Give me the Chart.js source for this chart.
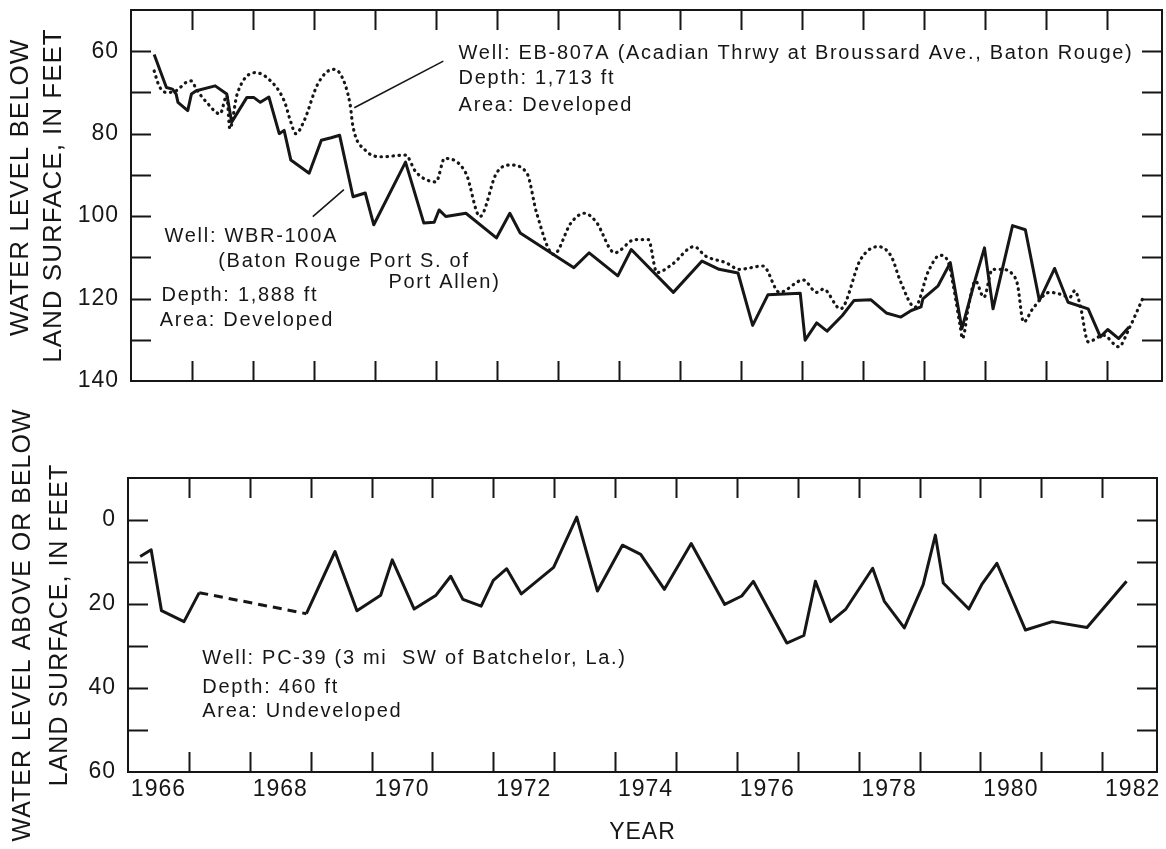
<!DOCTYPE html>
<html>
<head>
<meta charset="utf-8">
<title>Water levels, Baton Rouge area wells</title>
<script src="https://cdn.jsdelivr.net/npm/chart.js@4.4.1/dist/chart.umd.min.js"></script>
<style>
    html, body { margin: 0; padding: 0; background: #fff; }
    #wrap { position: relative; width: 1166px; height: 849px; overflow: hidden; }
    #wrap canvas { position: absolute; left: 0; }
    #topChart { top: 0; }
    #bottomChart { top: 390px; }
</style>
</head>
<body>
<div id="wrap">
    <canvas id="topChart" width="1166" height="420"></canvas>
    <canvas id="bottomChart" width="1166" height="459"></canvas>
</div>
<script>
// --- data (year, feet below land surface) ---
const yearLabels = ['1966', '1968', '1970', '1972', '1974', '1976', '1978', '1980', '1982'];

// Well WBR-100A (solid line)
const wbrYears = [1966.38, 1966.58, 1966.68, 1966.74, 1966.77, 1966.93, 1966.99, 1967.07, 1967.38, 1967.57,
    1967.65, 1967.90, 1968.01, 1968.12, 1968.26, 1968.43, 1968.51, 1968.62, 1968.92, 1969.12,
    1969.28, 1969.42, 1969.64, 1969.84, 1969.98, 1970.50, 1970.80, 1970.97, 1971.05, 1971.16,
    1971.49, 1971.99, 1972.21, 1972.38, 1973.26, 1973.51, 1973.98, 1974.20, 1974.89, 1975.36,
    1975.64, 1975.95, 1976.19, 1976.44, 1976.97, 1977.05, 1977.24, 1977.41, 1977.66, 1977.85,
    1978.13, 1978.38, 1978.62, 1978.79, 1978.95, 1978.98, 1979.23, 1979.43, 1979.62, 1979.84,
    1979.99, 1980.13, 1980.45, 1980.66, 1980.89, 1981.14, 1981.36, 1981.69, 1981.89, 1982.01,
    1982.19, 1982.36];
const wbrLevels = [60.8, 68.8, 69.2, 70.4, 72.4, 74.4, 70.4, 69.6, 68.4, 70.4,
    77.2, 71.2, 71.2, 72.4, 71.1, 80.0, 79.2, 86.4, 89.6, 81.6,
    81.0, 80.4, 95.3, 94.4, 102.1, 86.9, 101.7, 101.5, 98.5, 100.1,
    99.3, 105.3, 99.3, 104.1, 112.5, 108.9, 114.5, 108.1, 118.5, 110.9,
    112.9, 113.8, 126.5, 119.1, 118.7, 130.1, 125.9, 127.9, 124.1, 120.5,
    120.3, 123.5, 124.5, 122.9, 122.0, 120.1, 116.9, 111.3, 127.3, 115.3,
    107.7, 122.5, 102.3, 103.3, 120.5, 112.7, 120.9, 122.5, 129.3, 127.5,
    129.7, 126.9];

// Well EB-807A (dotted line)
const ebYears = [1966.38, 1966.46, 1966.58, 1966.74, 1966.90, 1966.99, 1967.07, 1967.24, 1967.46, 1967.57,
    1967.62, 1967.74, 1968.04, 1968.26, 1968.51, 1968.62, 1968.70, 1968.84, 1969.06, 1969.31,
    1969.45, 1969.59, 1969.64, 1969.84, 1970.11, 1970.50, 1970.67, 1971.00, 1971.14, 1971.49,
    1971.72, 1971.99, 1972.21, 1972.49, 1972.65, 1972.93, 1973.21, 1973.43, 1973.62, 1973.93,
    1974.26, 1974.48, 1974.62, 1974.87, 1975.23, 1975.42, 1975.75, 1975.97, 1976.36, 1976.63,
    1977.02, 1977.24, 1977.35, 1977.63, 1977.96, 1978.24, 1978.46, 1978.62, 1978.85, 1979.07,
    1979.26, 1979.40, 1979.48, 1979.59, 1979.63, 1979.73, 1979.84, 1979.98, 1980.12, 1980.26,
    1980.45, 1980.53, 1980.63, 1980.78, 1981.06, 1981.22, 1981.39, 1981.47, 1981.56, 1981.69,
    1981.94, 1982.19, 1982.36, 1982.58];
const ebLevels = [64.8, 68.4, 70.0, 69.6, 67.6, 67.2, 69.2, 72.4, 75.2, 70.8,
    78.8, 70.4, 65.2, 66.8, 72.0, 77.2, 80.0, 76.8, 68.0, 64.4,
    66.0, 72.8, 78.4, 84.0, 85.6, 85.2, 89.3, 91.7, 86.0, 89.6,
    100.1, 89.6, 87.6, 89.6, 99.3, 109.3, 101.7, 99.3, 101.3, 108.9,
    105.7, 105.7, 113.7, 111.7, 107.4, 109.7, 111.3, 112.9, 112.1, 118.5,
    115.5, 118.5, 117.7, 122.5, 110.5, 107.4, 109.7, 116.1, 122.1, 113.4,
    109.5, 111.3, 116.9, 126.5, 129.7, 121.7, 115.7, 119.7, 112.9, 112.9,
    114.1, 116.5, 125.7, 122.5, 118.5, 118.9, 119.7, 118.1, 121.7, 130.5,
    128.9, 131.7, 127.3, 120.1];

// Well PC-39 (solid, one dashed stretch with no record)
const pcYears = [1966.20, 1966.38, 1966.55, 1966.92, 1967.17, 1968.93, 1969.40, 1969.76, 1970.15, 1970.34,
    1970.70, 1971.06, 1971.30, 1971.50, 1971.80, 1972.00, 1972.22, 1972.46, 1972.99, 1973.37,
    1973.71, 1974.12, 1974.42, 1974.81, 1975.25, 1975.80, 1976.08, 1976.27, 1976.82, 1977.10,
    1977.29, 1977.54, 1977.79, 1978.23, 1978.42, 1978.75, 1979.06, 1979.26, 1979.39, 1979.81,
    1980.02, 1980.27, 1980.74, 1981.18, 1981.75, 1982.40];
const pcLevels = [8.7, 7.1, 21.6, 24.2, 17.3, 22.3, 7.5, 21.6, 17.9, 9.5,
    21.2, 17.9, 13.4, 18.9, 20.5, 14.4, 11.6, 17.6, 11.3, -0.7,
    16.9, 6.0, 8.2, 16.5, 5.6, 20.1, 18.1, 14.6, 29.3, 27.5,
    14.6, 24.2, 21.2, 11.5, 19.3, 25.7, 15.4, 3.6, 15.0, 21.2,
    15.4, 10.3, 26.2, 24.2, 25.6, 14.6];
const pcDashedFrom = 4;

// --- styling ---
const INK = '#161616';
const FONT = "'Liberation Sans', Arial, Helvetica, sans-serif";
const YEAR_MIN = 1966;
const YEAR_MAX = 1982.9;

const toPoints = (xs, ys) => xs.map((x, i) => ({ x, y: ys[i] }));

// Chart.js has no inward ticks, so mark them from the scales after drawing
const frameTicks = {
    id: 'frameTicks',
    afterDraw(chart) {
        const { ctx, chartArea: a, scales: { x, y } } = chart;
        const len = 20;
        ctx.save();
        ctx.strokeStyle = INK;
        ctx.lineWidth = 2;
        ctx.strokeRect(a.left, a.top, a.right - a.left, a.bottom - a.top);
        ctx.beginPath();
        for (let yr = Math.ceil(YEAR_MIN) + 1; yr < YEAR_MAX; yr++) {
            const px = Math.round(x.getPixelForValue(yr)) + 0.5;
            ctx.moveTo(px, a.top); ctx.lineTo(px, a.top + len);
            ctx.moveTo(px, a.bottom); ctx.lineTo(px, a.bottom - len);
        }
        y.ticks.forEach((t) => {
            if (t.value <= y.min || t.value >= y.max) return;
            const py = Math.round(y.getPixelForValue(t.value)) + 0.5;
            ctx.moveTo(a.left, py); ctx.lineTo(a.left + len, py);
            ctx.moveTo(a.right, py); ctx.lineTo(a.right - len, py);
        });
        ctx.stroke();
        ctx.restore();
    }
};

const tracking = {
    id: 'tracking',
    beforeUpdate(chart) { chart.ctx.letterSpacing = '1px'; },
    beforeDraw(chart) { chart.ctx.letterSpacing = '1px'; }
};

function notesPlugin(texts, leaders) {
    return {
        id: 'notes',
        afterDatasetsDraw(chart) {
            const { ctx, scales: { x, y } } = chart;
            ctx.save();
            ctx.fillStyle = INK;
            ctx.strokeStyle = INK;
            ctx.font = `20px ${FONT}`;
            ctx.letterSpacing = '1.7px';
            ctx.textBaseline = 'middle';
            ctx.textAlign = 'left';
            texts.forEach((t) => ctx.fillText(t.text, x.getPixelForValue(t.year), y.getPixelForValue(t.level)));
            ctx.lineWidth = 1.6;
            leaders.forEach((l) => {
                ctx.beginPath();
                ctx.moveTo(x.getPixelForValue(l.from[0]), y.getPixelForValue(l.from[1]));
                ctx.lineTo(x.getPixelForValue(l.to[0]), y.getPixelForValue(l.to[1]));
                ctx.stroke();
            });
            ctx.restore();
        }
    };
}

function levelAxis(min, max, width, pad, lines, size, lineHeight) {
    return {
        min, max, reverse: true,
        grid: { display: false, drawTicks: false },
        border: { display: false },
        ticks: {
            stepSize: 10, autoSkip: false, padding: pad, color: INK,
            font: { family: FONT, size: 23 },
            callback: (v) => (v % 20 === 0 && v !== min ? String(v) : '')
        },
        title: {
            display: true, text: lines, color: INK,
            font: { family: FONT, size, lineHeight },
            padding: { top: 5, bottom: 0 }
        },
        afterFit: (scale) => { scale.width = width; scale.paddingTop = 0; scale.paddingBottom = 0; }
    };
}

const baseOptions = {
    responsive: false,
    animation: false,
    events: [],
    plugins: { legend: { display: false }, tooltip: { enabled: false } }
};

// top panel: developed-area wells
new Chart(document.getElementById('topChart'), {
    type: 'line',
    data: {
        datasets: [
            {
                label: 'EB-807A', data: toPoints(ebYears, ebLevels),
                borderColor: INK, borderWidth: 3.2, borderDash: [0.5, 5.5], borderCapStyle: 'round',
                cubicInterpolationMode: 'monotone', pointRadius: 0
            },
            {
                label: 'WBR-100A', data: toPoints(wbrYears, wbrLevels),
                borderColor: INK, borderWidth: 3, borderJoinStyle: 'round', tension: 0, pointRadius: 0
            }
        ]
    },
    options: {
        ...baseOptions,
        layout: { padding: { top: 10, right: 4, bottom: 39, left: 0 } },
        scales: {
            x: { type: 'linear', display: false, min: YEAR_MIN, max: YEAR_MAX },
            y: levelAxis(50, 140, 131, 12, ['  WATER LEVEL BELOW', 'LAND SURFACE, IN FEET'], 26, 1.25)
        }
    },
    plugins: [tracking, frameTicks, notesPlugin([
        { text: 'Well: EB-807A (Acadian Thrwy at Broussard Ave., Baton Rouge)', year: 1971.37, level: 60.5 },
        { text: 'Depth: 1,713 ft', year: 1971.37, level: 66.7 },
        { text: 'Area: Developed', year: 1971.37, level: 73.2 },
        { text: 'Well: WBR-100A', year: 1966.55, level: 104.9 },
        { text: '(Baton Rouge Port S. of', year: 1967.43, level: 111.0 },
        { text: 'Port Allen)', year: 1970.22, level: 116.0 },
        { text: 'Depth: 1,888 ft', year: 1966.50, level: 119.3 },
        { text: 'Area: Developed', year: 1966.47, level: 125.4 }
    ], [
        { from: [1971.12, 62.4], to: [1969.66, 73.7] },
        { from: [1969.49, 93.6], to: [1968.98, 100.1] }
    ])]
});

// bottom panel: undeveloped-area well
new Chart(document.getElementById('bottomChart'), {
    type: 'line',
    data: {
        datasets: [{
            label: 'PC-39', data: toPoints(pcYears, pcLevels),
            borderColor: INK, borderWidth: 3, borderJoinStyle: 'round', tension: 0, pointRadius: 0,
            segment: { borderDash: (ctx) => (ctx.p0DataIndex === pcDashedFrom ? [9, 6] : undefined) }
        }]
    },
    options: {
        ...baseOptions,
        layout: { padding: { top: 88, right: 9, bottom: 0, left: 0 } },
        scales: {
            x: {
                type: 'linear', min: YEAR_MIN, max: YEAR_MAX,
                grid: { display: false, drawTicks: false },
                border: { display: false },
                afterBuildTicks: (scale) => { scale.ticks = yearLabels.map((l) => ({ value: Number(l) + 0.5 })); },
                ticks: {
                    autoSkip: false, maxRotation: 0, padding: 4, color: INK,
                    font: { family: FONT, size: 23 },
                    callback: (v) => String(Math.floor(v))
                },
                title: {
                    display: true, text: 'YEAR', color: INK,
                    font: { family: FONT, size: 23 },
                    padding: { top: 0, bottom: 3 }
                },
                afterFit: (scale) => { scale.height = 77; scale.paddingLeft = 0; scale.paddingRight = 0; }
            },
            y: levelAxis(-10, 60, 128, 12, ['WATER LEVEL ABOVE OR BELOW', 'LAND SURFACE, IN FEET'], 25, 1.48)
        }
    },
    plugins: [tracking, frameTicks, notesPlugin([
        { text: 'Well: PC-39 (3 mi  SW of Batchelor, La.)', year: 1967.22, level: 32.9 },
        { text: 'Depth: 460 ft', year: 1967.22, level: 39.8 },
        { text: 'Area: Undeveloped', year: 1967.22, level: 45.6 }
    ], [])]
});
</script>
</body>
</html>
